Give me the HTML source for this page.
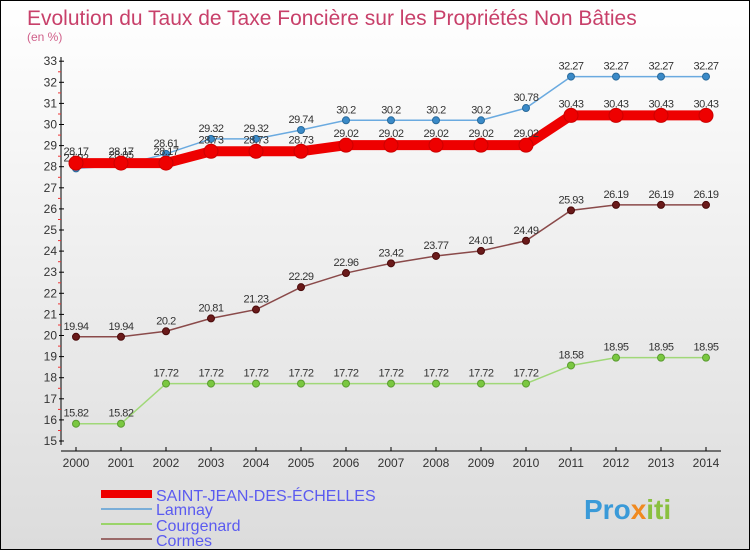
<!DOCTYPE html>
<html><head><meta charset="utf-8"><style>
body{margin:0}
#c{width:750px;height:550px;position:relative;background:linear-gradient(#ffffff,#dcdcdc);border:1px solid #000;box-sizing:border-box;overflow:hidden;font-family:"Liberation Sans",sans-serif}
</style></head><body>
<div id="c">
<svg id="s" width="750" height="550" style="position:absolute;left:0;top:0">
<text x="26" y="24" font-size="21" fill="#c8406a">Evolution du Taux de Taxe Foncière sur les Propriétés Non Bâties</text>
<text x="26" y="40" font-size="12" fill="#d0608a">(en %)</text>
<g id="axes"></g><g id="series"></g>
<g>
<rect x="100" y="489" width="51" height="8" fill="#e00"/>
<text x="155" y="500" font-size="16" fill="#5b5bf0">SAINT-JEAN-DES-ÉCHELLES</text>
<rect x="100" y="507" width="51" height="2" fill="#7aaed8"/>
<text x="155" y="514" font-size="16" fill="#5b5bf0">Lamnay</text>
<rect x="100" y="522" width="51" height="2" fill="#9ad46a"/>
<text x="155" y="530" font-size="16" fill="#5b5bf0">Courgenard</text>
<rect x="100" y="537" width="51" height="2" fill="#9a6a6a"/>
<text x="155" y="545" font-size="16" fill="#5b5bf0">Cormes</text>
</g>
<text x="583" y="518" font-size="28" font-weight="bold" fill="#3a9ad8">Pro<tspan fill="#f08a20">x</tspan><tspan fill="#8ac040">iti</tspan></text>
</svg>
</div>
<script>
const years=[2000,2001,2002,2003,2004,2005,2006,2007,2008,2009,2010,2011,2012,2013,2014];
const saintJean=[28.17,28.17,28.17,28.73,28.73,28.73,29.02,29.02,29.02,29.02,29.02,30.43,30.43,30.43,30.43];
const lamnay=[27.92,28.05,28.61,29.32,29.32,29.74,30.2,30.2,30.2,30.2,30.78,32.27,32.27,32.27,32.27];
const courgenard=[15.82,15.82,17.72,17.72,17.72,17.72,17.72,17.72,17.72,17.72,17.72,18.58,18.95,18.95,18.95];
const cormes=[19.94,19.94,20.2,20.81,21.23,22.29,22.96,23.42,23.77,24.01,24.49,25.93,26.19,26.19,26.19];
const yTicks=[15,16,17,18,19,20,21,22,23,24,25,26,27,28,29,30,31,32,33];
const NS="http://www.w3.org/2000/svg";
const xs=i=>75+i*45, ys=v=>440-(v-15)*21.1;
function mk(t,a,p){const e=document.createElementNS(NS,t);for(const k in a)e.setAttribute(k,a[k]);p.appendChild(e);return e;}
const ax=document.getElementById('axes');
let l=mk('line',{x1:60,y1:56,x2:60,y2:444,stroke:'#000'},ax);


l=mk('line',{x1:60,y1:450,x2:720,y2:450,stroke:'#000'},ax);


yTicks.forEach(v=>{const y=ys(v);
 mk('line',{x1:58,y1:y,x2:63,y2:y,stroke:'#000'},ax);
 if(v<33)mk('line',{x1:57,y1:y-10.5,x2:60,y2:y-10.5,stroke:'#e33'},ax);
 const t=mk('text',{x:56,y:y+4,'font-size':12,'text-anchor':'end',fill:'#333'},ax);t.textContent=v;
 
 });
years.forEach((yr,i)=>{const x=xs(i);
 mk('line',{x1:x,y1:446,x2:x,y2:450,stroke:'#000'},ax);
 const t=mk('text',{x:x,y:466,'font-size':12,'text-anchor':'middle',fill:'#333'},ax);t.textContent=yr;
 
 });
const sg=document.getElementById('series');
function series(name,data,color,w,r,dot,dotStroke,lab){
 const g=mk('g',{},sg);
 
 
 mk('polyline',{points:data.map((v,i)=>xs(i)+','+ys(v)).join(' '),fill:'none',stroke:color,'stroke-width':w},g);
 data.forEach((v,i)=>{const c=mk('circle',{cx:xs(i),cy:ys(v),r:r,fill:dot,stroke:dotStroke},g);
  
  
  const t=mk('text',{x:xs(i),y:ys(v)+lab,'font-size':11,'text-anchor':'middle',fill:'#333','letter-spacing':'-0.5'},g);t.textContent=v;
  
  });
}
series('cormes',cormes,'#8a4a4a',1.5,3.5,'#6a1a1a','#4a0a0a',-7);
series('courgenard',courgenard,'#a0d878',1.5,3.5,'#7ac840','#5a9a30',-7);
series('lamnay',lamnay,'#6aaae0',1.5,3.5,'#3a8ac8','#2a6a9a',-7);
series('saint-jean',saintJean,'#e00',10,7,'#e00','#c00',-8);
</script>
</body></html>
